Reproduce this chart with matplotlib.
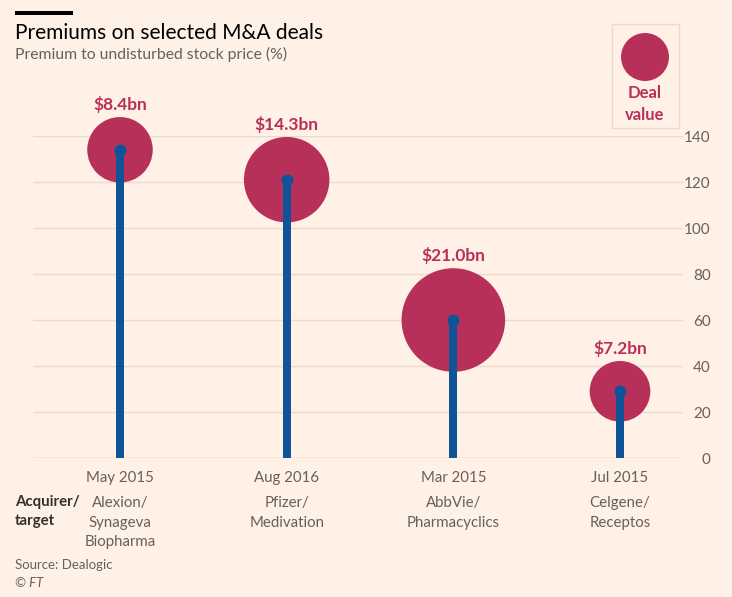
import matplotlib.pyplot as plt
from matplotlib.patches import Rectangle, Ellipse
import numpy as np

# Data
dates = ['May 2015', 'Aug 2016', 'Mar 2015', 'Jul 2015']
deals = ['Alexion/\nSynageva\nBiopharma', 'Pfizer/\nMedivation',
         'AbbVie/\nPharmacyclics', 'Celgene/\nReceptos']
premium = [134, 121, 60, 29]          # premium to undisturbed price, %
deal_value = [8.4, 14.3, 21.0, 7.2]   # $bn
y_ticks = [0, 20, 40, 60, 80, 100, 120, 140]

BG = '#fff1e5'
CLARET = '#b7305a'
BLUE = '#0f5499'
GRID = '#e8dbcf'
GREY = '#66605c'
DARK = '#33302e'

plt.rcParams['font.family'] = ['Lato', 'DejaVu Sans']

W, H = 732, 597
fig = plt.figure(figsize=(W / 100, H / 100), dpi=100, facecolor=BG)
ax = fig.add_axes([33 / W, 1 - 458 / H, (683 - 33) / W, (458 - 136) / H])
ax.set_facecolor(BG)

x = np.arange(len(premium))
ax.set_xlim(-0.522, 3.378)
ax.set_ylim(0, 140)

# gridlines
for t in y_ticks:
    ax.axhline(t, color='#cfc2b7' if t == 0 else GRID, lw=1, zorder=0)

# bubbles sized by deal value (area ~ value)
px2pt = 0.72
r_pt = 11.3 * px2pt * np.sqrt(deal_value)
ax.scatter(x, premium, s=(2 * r_pt) ** 2, color=CLARET, lw=0, zorder=2, clip_on=False)

# lollipops
ax.vlines(x, 0, premium, color=BLUE, lw=8 * px2pt, zorder=3)
ax.scatter(x, premium, s=(12 * px2pt) ** 2, color=BLUE, lw=0, zorder=4, clip_on=False)

# value labels
for xi, yi, r, v in zip(x, premium, r_pt, deal_value):
    ax.annotate(f'${v:.1f}bn', (xi, yi), xytext=(0, r + 5), textcoords='offset points',
                ha='center', va='baseline', fontsize=12.5, fontweight='bold', color=CLARET,
                annotation_clip=False)

# category labels below axis
for xi, d, n in zip(x, dates, deals):
    ax.annotate(d, (xi, 0), xycoords=('data', 'axes fraction'), xytext=(0, -14.4),
                textcoords='offset points', ha='center', va='center', fontsize=10.8,
                color=GREY, annotation_clip=False)
    ax.annotate(n, (xi, 0), xycoords=('data', 'axes fraction'), xytext=(0, -27.5),
                textcoords='offset points', ha='center', va='top', fontsize=10.8, color=GREY,
                linespacing=1.5, annotation_clip=False)

fig.text(15 / W, 1 - 495 / H, 'Acquirer/\ntarget', ha='left', va='top', fontsize=10.8,
         fontweight='bold', color=DARK, linespacing=1.45)

# y axis on the right
ax.set_yticks(y_ticks)
ax.yaxis.tick_right()
ax.tick_params(axis='y', length=0, pad=20, labelsize=11, labelcolor=GREY)
for lab in ax.get_yticklabels():
    lab.set_horizontalalignment('right')
ax.set_xticks([])
for s in ax.spines.values():
    s.set_visible(False)

# title block
fig.add_artist(Rectangle((15 / W, 1 - 15 / H), 58 / W, 4 / H, transform=fig.transFigure,
                         color='#000000', lw=0))
fig.text(15 / W, 1 - 33 / H, 'Premiums on selected M&A deals', ha='left', va='center',
         fontsize=15, color='#000000')
fig.text(15 / W, 1 - 54 / H, 'Premium to undisturbed stock price (%)', ha='left',
         va='center', fontsize=11.3, color=GREY)

# legend box
fig.add_artist(Rectangle((612 / W, 1 - 128 / H), 67 / W, 104 / H, transform=fig.transFigure,
                         facecolor='none', edgecolor=GRID, lw=1))
fig.add_artist(Ellipse((645 / W, 1 - 57 / H), 48 / W, 48 / H, transform=fig.transFigure,
                       color=CLARET, lw=0))
fig.text(645 / W, 1 - 104 / H, 'Deal\nvalue', ha='center', va='center', fontsize=12,
         fontweight='bold', color=CLARET, linespacing=1.5)

# source
fig.text(15 / W, 1 - 565 / H, 'Source: Dealogic', ha='left', va='center', fontsize=9.5,
         color=GREY)
fig.text(15 / W, 1 - 583 / H, '© FT', ha='left', va='center', fontsize=9.5, color=GREY,
         style='italic')

fig.savefig('out.png', dpi=100, facecolor=BG)
